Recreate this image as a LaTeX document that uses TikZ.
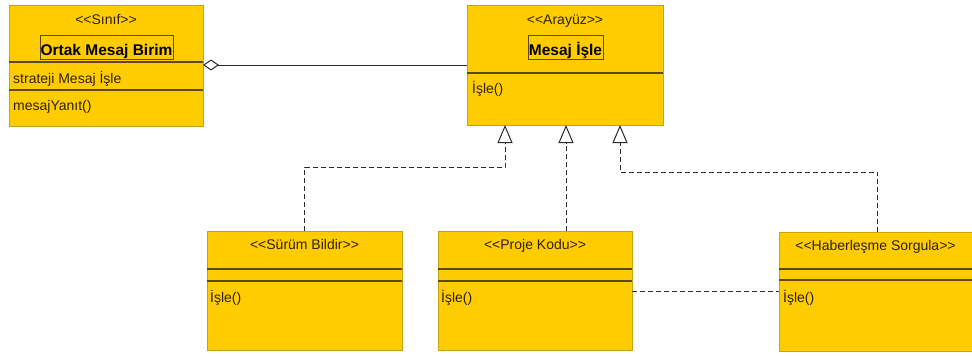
\documentclass[tikz,border=0pt]{standalone}
\usepackage{fontspec}
\setmainfont{Liberation Sans}[Ligatures=TeXOff]
\usetikzlibrary{arrows.meta}
\definecolor{gold}{HTML}{FFCC00}
\definecolor{goldedge}{HTML}{C9A20E}
\definecolor{divline}{HTML}{5E4620}
\definecolor{txt}{HTML}{2E220A}
\definecolor{conn}{HTML}{2A2A2A}
\tikzset{
  cls/.style={rectangle, fill=gold, draw=goldedge, line width=0.9pt, inner sep=0pt, outer sep=0pt, anchor=north west},
  divl/.style={draw=divline, line width=1.1pt},
  stereo/.style={anchor=base, inner sep=0pt, text=txt, font=\fontsize{14}{16}\selectfont},
  member/.style={anchor=base west, inner sep=0pt, text=txt, font=\fontsize{14}{16}\selectfont},
  nameframe/.style={rectangle, draw=divline, line width=1pt, inner sep=0pt, anchor=center},
  cname/.style={anchor=base, inner sep=0pt, text=black, font=\bfseries\fontsize{15.5}{18}\selectfont},
  aggr/.style={draw=conn, line width=1pt, -{Diamond[open, length=16pt, width=11pt, line width=1pt]}},
  real/.style={draw=conn, line width=1pt, dash pattern=on 5pt off 3pt, -{Triangle[open, length=18pt, width=15pt, line width=1pt]}},
  dep/.style={draw=conn, line width=1pt, dash pattern=on 5pt off 3pt},
}
\begin{document}
\begin{tikzpicture}[x=1pt, y=-1pt]
\clip (0,0) rectangle (972,356);
\fill[white] (0,0) rectangle (972,356);

% Class boxes
\node[cls, minimum width=194pt, minimum height=121pt] (sinif) at (9,5) {};
\node[cls, minimum width=196pt, minimum height=120pt] (arayuz) at (467,5) {};
\node[cls, minimum width=195pt, minimum height=119pt] (surum) at (207,231) {};
\node[cls, minimum width=194pt, minimum height=119pt] (proje) at (438,231) {};
\node[cls, minimum width=197pt, minimum height=119pt] (haber) at (779,232) {};

% Compartment lines
\coordinate (ya) at (0,62);
\coordinate (yb) at (0,90);
\coordinate (yc) at (0,73);
\coordinate (yd) at (0,269);
\coordinate (ye) at (0,281);
\coordinate (yf) at (0,280);
\draw[divl] (sinif.west |- ya) -- (sinif.east |- ya);
\draw[divl] (sinif.west |- yb) -- (sinif.east |- yb);
\draw[divl] (arayuz.west |- yc) -- (arayuz.east |- yc);
\draw[divl] (surum.west |- yd) -- (surum.east |- yd);
\draw[divl] (surum.west |- ye) -- (surum.east |- ye);
\draw[divl] (proje.west |- yd) -- (proje.east |- yd);
\draw[divl] (proje.west |- ye) -- (proje.east |- ye);
\draw[divl] (haber.west |- yd) -- (haber.east |- yd);
\draw[divl] (haber.west |- yf) -- (haber.east |- yf);

% Texts of class 1
\node[stereo] (s1) at (106,24) {<<Sınıf>>};
\node[nameframe, minimum width=133pt, minimum height=24pt] (f1) at (106.5,47) {};
\node[cname] (n1) at (106.5,55) {Ortak Mesaj Birim};
\node[member] (m1) at (13,83) {strateji Mesaj İşle};
\node[member] (m2) at (13,110) {mesajYanıt()};

% Texts of interface
\node[stereo] (s2) at (565,24) {<<Arayüz>>};
\node[nameframe, minimum width=75pt, minimum height=24pt] (f2) at (565.5,47) {};
\node[cname] (n2) at (565.5,55) {Mesaj İşle};
\node[member] (m3) at (472,93) {İşle()};

% Texts of implementing classes
\node[stereo] (s3) at (304.5,249) {<<Sürüm Bildir>>};
\node[member] (m4) at (210,302) {İşle()};
\node[stereo] (s4) at (535,249) {<<Proje Kodu>>};
\node[member] (m5) at (441,302) {İşle()};
\node[stereo] (s5) at (875.5,250) {<<Haberleşme Sorgula>>};
\node[member] (m6) at (783,302) {İşle()};

% Aggregation
\coordinate (yg) at (0,65);
\draw[aggr] (arayuz.west |- yg) -- (sinif.east |- yg);

% Realizations
\coordinate (t1) at (505,125);
\coordinate (k1) at (505,167);
\coordinate (t2) at (566,125);
\coordinate (t3) at (620,125);
\coordinate (k3) at (620,172);
\draw[real] (surum.north) |- (k1) -- (t1);
\draw[real] (proje.north -| t2) -- (t2);
\draw[real] (haber.north) |- (k3) -- (t3);

% Dependency
\coordinate (yh) at (0,291);
\draw[dep] (proje.east |- yh) -- (haber.west |- yh);
\end{tikzpicture}
\end{document}
